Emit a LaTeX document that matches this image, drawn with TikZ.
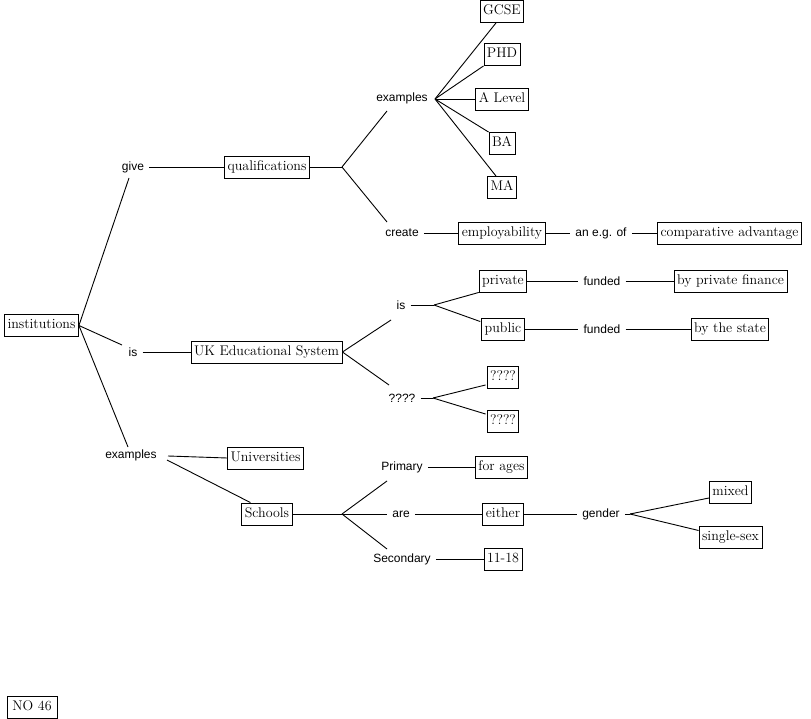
\documentclass[tikz,border=0pt]{standalone}
\usepackage{fontspec}
\newfontfamily\lblfont{Liberation Sans}
\begin{document}
\begin{tikzpicture}[x=1pt,y=-1pt,
  box/.style={draw,line width=0.9pt,inner xsep=3pt,inner ysep=0pt,minimum height=22pt,
    text height=9.8pt,text depth=3pt,font=\fontsize{14}{16}\selectfont},
  lbl/.style={inner xsep=5pt,inner ysep=3pt,font=\lblfont\fontsize{12}{14}\selectfont},
  con/.style={line width=0.9pt}]
\useasboundingbox (0,0) rectangle (811,719);
% boxes
\node[box] (inst) at (41.5,325.5) {institutions};
\node[box] (qual) at (267,167) {qualifications};
\node[box] (gcse) at (502,11.5) {GCSE};
\node[box] (phd) at (502,54.5) {PHD};
\node[box] (alev) at (502,99) {A Level};
\node[box] (ba) at (502,143.5) {BA};
\node[box] (ma) at (502,187.5) {MA};
\node[box] (emp) at (502,233) {employability};
\node[box] (comp) at (729.5,233) {comparative advantage};
\node[box] (priv) at (503,281) {private};
\node[box] (bpf) at (730.5,281) {by private finance};
\node[box] (pub) at (503,329) {public};
\node[box] (bts) at (730,329) {by the state};
\node[box] (uk) at (266.5,352) {UK Educational System};
\node[box] (qa) at (503,377.5) {????};
\node[box] (qb) at (503,421.5) {????};
\node[box] (univ) at (265.5,458) {Universities};
\node[box] (sch) at (267,514) {Schools};
\node[box] (ages) at (501.5,467) {for ages};
\node[box] (either) at (503,514) {either};
\node[box] (sec1118) at (503,559) {11-18};
\node[box] (mixed) at (730.5,492) {mixed};
\node[box] (single) at (730.5,537.5) {single-sex};
\node[box,minimum width=50pt] (no46) at (32,707.5) {NO 46};
% labels
\node[lbl] (give) at (133,167) {give};
\node[lbl] (is2) at (133,352) {is};
\node[lbl] (ex2) at (131,455) {examples};
\node[lbl] (ex1) at (402,98) {examples};
\node[lbl] (create) at (402,233) {create};
\node[lbl] (aeg) at (601,233) {an e.g. of};
\node[lbl] (is1) at (401,305) {is};
\node[lbl] (f1) at (602,281) {funded};
\node[lbl] (f2) at (602,329) {funded};
\node[lbl] (ql) at (402,398) {????};
\node[lbl] (prim) at (402,467) {Primary};
\node[lbl] (are) at (401,514) {are};
\node[lbl] (sec) at (402,559) {Secondary};
\node[lbl] (gender) at (601,514) {gender};
% fork points
\coordinate (qfork) at (342,167);
\coordinate (exfork) at (435,99);
\coordinate (ifork) at (434,305);
\coordinate (qlfork) at (433,398);
\coordinate (sfork) at (342,514);
\coordinate (gfork) at (630,514);
% connectors
\draw[con] (inst.east) -- ([shift={(-4,11)}]give.center);
\draw[con] (inst.east) -- ([shift={(-11,-7)}]is2.center);
\draw[con] (inst.east) -- ([shift={(-3,-8)}]ex2.center);
\draw[con] (give.east) -- (qual.west);
\draw[con] (is2.east) -- (uk.west);
\draw[con] (qual.east) -- (qfork);
\draw[con] (qfork) -- ([shift={(-15,13)}]ex1.center);
\draw[con] (qfork) -- ([shift={(-15,-11)}]create.center);
\draw[con] (exfork) -- ([xshift=-6pt]gcse.south);
\draw[con] (exfork) -- (phd.south west);
\draw[con] (exfork) -- (alev.west);
\draw[con] (exfork) -- (ba.north west);
\draw[con] (exfork) -- ([xshift=-6pt]ma.north);
\draw[con] (create.east) -- (emp.west);
\draw[con] (emp.east) -- (aeg.west);
\draw[con] (aeg.east) -- (comp.west);
\draw[con] (uk.east) -- ([shift={(-10,15)}]is1.center);
\draw[con] (uk.east) -- ([shift={(-13,-13)}]ql.center);
\draw[con] (is1.east) -- (ifork);
\draw[con] (ifork) -- (priv.south west);
\draw[con] (ifork) -- ([shift={(-1,4)}]pub.north west);
\draw[con] (priv.east) -- (f1.west);
\draw[con] (f1.east) -- (bpf.west);
\draw[con] (pub.east) -- (f2.west);
\draw[con] (f2.east) -- (bts.west);
\draw[con] (ql.east) -- (qlfork);
\draw[con] (qlfork) -- ([shift={(-1,-4)}]qa.south west);
\draw[con] (qlfork) -- ([shift={(-1,4)}]qb.north west);
\draw[con] ([shift={(37,1)}]ex2.center) -- (univ.west);
\draw[con] ([shift={(36,5)}]ex2.center) -- ([xshift=9pt]sch.north west);
\draw[con] (sch.east) -- (sfork);
\draw[con] (sfork) -- ([shift={(-15,14)}]prim.center);
\draw[con] (sfork) -- (are.west);
\draw[con] (sfork) -- ([shift={(-15,-10)}]sec.center);
\draw[con] (prim.east) -- (ages.west);
\draw[con] (are.east) -- (either.west);
\draw[con] (sec.east) -- (sec1118.west);
\draw[con] (either.east) -- (gender.west);
\draw[con] (gender.east) -- (gfork);
\draw[con] (gfork) -- ([shift={(0,6)}]mixed.west);
\draw[con] (gfork) -- ([shift={(0,-7)}]single.west);
\end{tikzpicture}
\end{document}
